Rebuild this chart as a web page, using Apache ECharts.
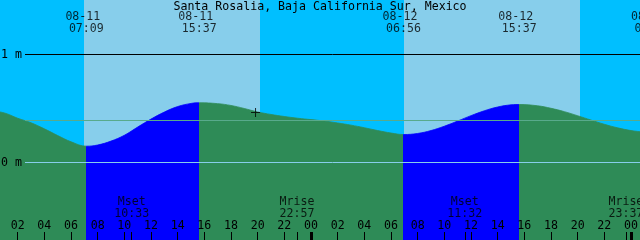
<!DOCTYPE html>
<html><head><meta charset="utf-8">
<script src="https://cdn.jsdelivr.net/npm/echarts@6/dist/echarts.min.js"></script>
<style>html,body{margin:0;padding:0;background:#00BFFF}#c{width:640px;height:240px}</style>
</head><body><div id="c"></div><script>
// ---- data (hours counted from 08-11 00:00 local) ----
const chartTitle = 'Santa Rosalia, Baja California Sur, Mexico';
const tideTimes   = [0, 1, 2, 3, 4, 5, 6, 7.15, 8, 9, 10, 11, 12, 13, 14, 15, 15.617, 17, 18, 19, 20, 21, 22, 23, 24, 25, 26, 27, 28, 29, 30, 30.933, 32, 33, 34, 35, 36, 37, 38, 39, 39.617, 41, 42, 43, 44, 45, 46, 47, 48, 49, 49.575];
const tideHeights = [0.48, 0.459, 0.41, 0.368, 0.312, 0.25, 0.192, 0.151, 0.162, 0.198, 0.252, 0.328, 0.402, 0.467, 0.518, 0.547, 0.553, 0.545, 0.528, 0.50, 0.468, 0.445, 0.426, 0.41, 0.397, 0.384, 0.366, 0.346, 0.322, 0.296, 0.273, 0.259, 0.269, 0.296, 0.336, 0.384, 0.434, 0.479, 0.514, 0.534, 0.537, 0.525, 0.502, 0.471, 0.433, 0.393, 0.354, 0.321, 0.296, 0.282, 0.28];
const extremeTimes   = [7.15, 15.617, 30.933, 39.617, 49.575];
const extremeHeights = [0.151, 0.553, 0.259, 0.537, 0.28];
const extremeDates   = ['08-11', '08-11', '08-12', '08-12', '08-13'];
const extremeClock   = ['07:09', '15:37', '06:56', '15:37', '01:35'];
const moonTimes  = [10.55, 22.95, 35.533, 47.617];
const moonEvents = ['Mset', 'Mrise', 'Mset', 'Mrise'];
const moonClock  = ['10:33', '22:57', '11:32', '23:37'];
const sunriseTimes = [6.975, 30.975];
const sunsetTimes  = [20.175, 44.175];
const hourTicks = [2, 4, 6, 8, 10, 12, 14, 16, 18, 20, 22, 24, 26, 28, 30, 32, 34, 36, 38, 40, 42, 44, 46, 48];
const midnightTicks = [24, 48];
const datumLevels = [1, 0];
const datumLabels = ['1 m', '0 m'];
const meanSeaLevel = 0.389;
const nowMark = [19.84, 0.463];

// ---- view ----
const X_MIN = 0.675, X_MAX = 48.675;
const Y_MAX = 1.50463, Y_MIN = Y_MAX - 240 / 108;
const FONT = 'DejaVu Sans Mono';
const FS = 11.6;
const C_NIGHT = '#00BFFF', C_DAY = '#87CEEB', C_FLOOD = '#0000FF', C_EBB = '#2E8B57';

const isHigh = extremeHeights.map((h, i) => {
  const n = i < extremeHeights.length - 1 ? extremeHeights[i + 1] : extremeHeights[i - 1];
  return h > n;
});
const pieces = [];
extremeTimes.forEach((t, i) => {
  const col = isHigh[i] ? C_FLOOD : C_EBB;
  if (i === 0) pieces.push({ lt: t, color: col });
  else pieces.push({ gte: extremeTimes[i - 1], lt: t, color: col });
});
pieces.push({ gte: extremeTimes[extremeTimes.length - 1], color: isHigh[isHigh.length - 1] ? C_EBB : C_FLOOD });

const pad = v => String(((Math.round(v) % 24) + 24) % 24).padStart(2, '0');

const chart = echarts.init(document.getElementById('c'), null, { renderer: 'canvas' });
chart.setOption({
  animation: false,
  backgroundColor: C_NIGHT,
  title: {
    text: chartTitle, left: 'center', top: 0, padding: [1, 0, 0, 0],
    textStyle: { fontFamily: FONT, fontSize: FS, fontWeight: 'normal', color: '#000', lineHeight: 12 }
  },
  grid: { left: 0, right: 0, top: 0, bottom: 0, containLabel: false, outerBoundsMode: 'none' },
  xAxis: [{
    type: 'value', min: X_MIN, max: X_MAX, z: 10, position: 'bottom',
    axisLine: { show: false, onZero: false }, splitLine: { show: false },
    axisTick: { show: true, inside: true, length: 8, customValues: hourTicks.concat(moonTimes), lineStyle: { color: '#000', width: 1 } },
    axisLabel: { show: true, inside: true, customValues: hourTicks, formatter: v => pad(v), margin: 14, verticalAlign: 'middle',
      color: '#000', fontFamily: FONT, fontSize: FS, hideOverlap: false }
  }, {
    type: 'value', min: X_MIN, max: X_MAX, position: 'bottom', gridIndex: 0, z: 10,
    axisLine: { show: false, onZero: false }, splitLine: { show: false }, axisLabel: { show: false },
    axisTick: { show: true, inside: true, length: 8, customValues: midnightTicks, lineStyle: { color: '#000', width: 3 } }
  }],
  yAxis: [{
    type: 'value', min: Y_MIN, max: Y_MAX,
    axisLine: { show: false, onZero: false }, splitLine: { show: false }, axisTick: { show: false }, axisLabel: { show: false }
  }],
  visualMap: { show: false, type: 'piecewise', dimension: 0, seriesIndex: 1, pieces: pieces },
  series: [{
    type: 'line', data: [], z: 1,
    markArea: {
      silent: true, itemStyle: { color: C_DAY, opacity: 1 },
      data: sunriseTimes.map((s, i) => [{ xAxis: s }, { xAxis: sunsetTimes[i] }])
    }
  }, {
    type: 'line', z: 2, smooth: 0.4, symbol: 'none', clip: true,
    data: tideTimes.map((t, i) => [t, tideHeights[i]]),
    lineStyle: { width: 0.8 },
    areaStyle: { origin: 'start', opacity: 1 },
    markLine: {
      silent: true, symbol: 'none', animation: false,
      data: datumLevels.map((v, i) => [
        { x: 25, yAxis: v, lineStyle: { color: v === 1 ? '#000' : '#87CEEB', width: 1, type: 'solid' },
          label: { show: true, position: 'start', distance: 3, formatter: datumLabels[i], color: '#000', fontFamily: FONT, fontSize: FS } },
        { x: 640, yAxis: v }
      ]).concat([[
        { x: 25, yAxis: meanSeaLevel, lineStyle: { color: '#58AA8C', width: 1, type: 'solid' }, label: { show: false } },
        { x: 640, yAxis: meanSeaLevel }
      ]])
    }
  }, {
    type: 'scatter', z: 6, clip: false, symbolSize: 0, silent: true,
    data: extremeTimes.map(t => [t, Y_MAX]),
    label: { show: true, position: 'bottom', distance: 11.5, align: 'center', lineHeight: 11.8,
      formatter: p => extremeDates[p.dataIndex] + ' \n' + extremeClock[p.dataIndex],
      color: '#000', fontFamily: FONT, fontSize: FS }
  }, {
    type: 'scatter', z: 6, clip: false, symbolSize: 0, silent: true,
    data: moonTimes.map(t => [t, Y_MIN]),
    label: { show: true, position: 'top', distance: 20.7, align: 'center', lineHeight: 11.5,
      formatter: p => moonEvents[p.dataIndex] + '\n' + moonClock[p.dataIndex],
      color: '#000', fontFamily: FONT, fontSize: FS }
  }, {
    type: 'scatter', z: 7, silent: true,
    data: [nowMark],
    symbol: 'path://M0 4H9V5H0Z M4 0H5V9H4Z', symbolSize: 9, symbolKeepAspect: true,
    itemStyle: { color: '#000' }
  }]
});
</script></body></html>
